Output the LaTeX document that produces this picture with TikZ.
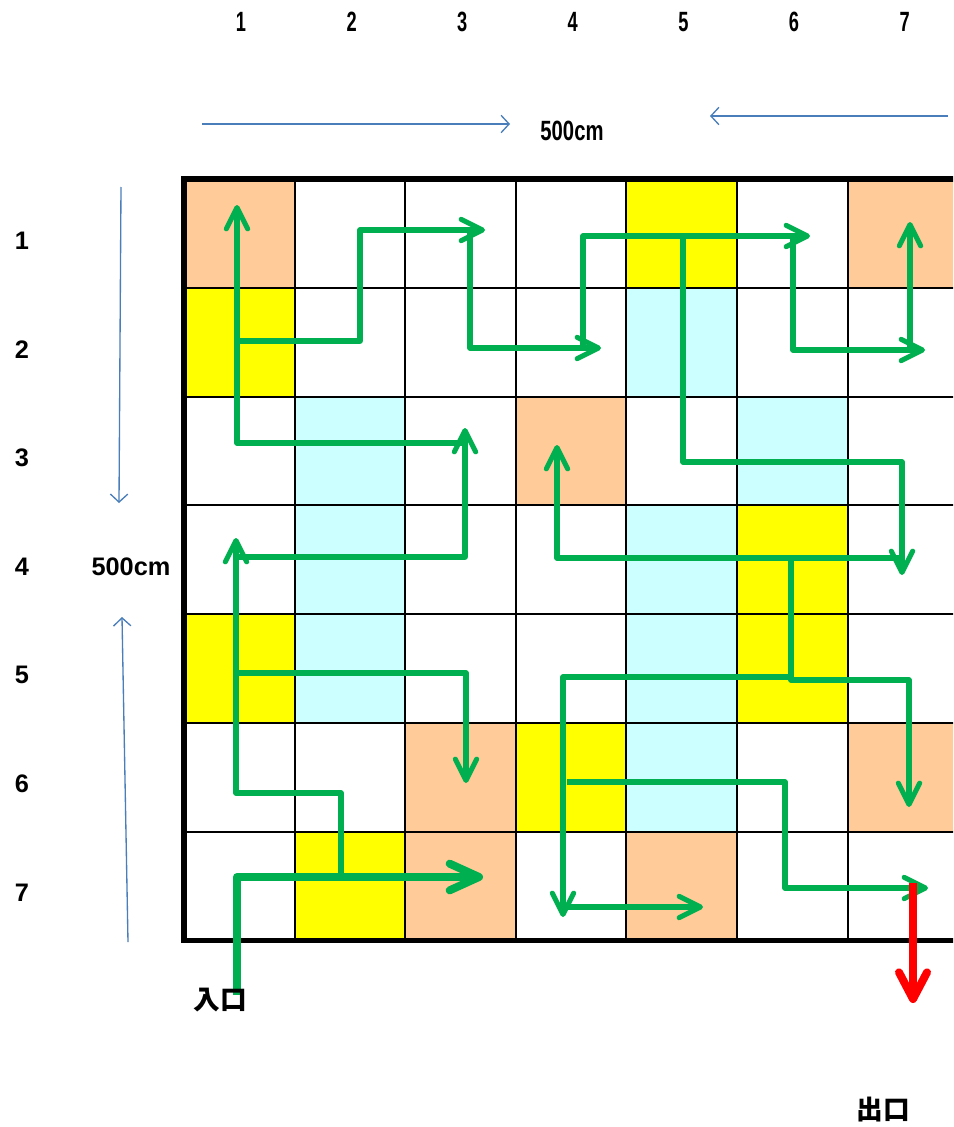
\documentclass[tikz,border=0pt]{standalone}
\usepackage{fontspec}
\setmainfont{Liberation Sans}
\newfontfamily\jpfont{Noto Sans CJK JP}
\usetikzlibrary{arrows.meta}
\definecolor{peach}{HTML}{FFCC99}
\definecolor{lemon}{HTML}{FFFF00}
\definecolor{aqua}{HTML}{CCFFFF}
\definecolor{route}{HTML}{00B050}
\definecolor{ruler}{HTML}{4A7EBB}
\newcommand{\cell}[3]{\fill[#3] ({184+110.6*(#1-1)}, {179+108.8*(#2-1)}) rectangle +(110.6, 108.8);}

\begin{document}
\begin{tikzpicture}[x=0.75pt, y=-0.75pt,
  walk/.style={draw=route, line width=3.8pt, line join=round,
    -{Straight Barb[length=16pt, width=16pt, round]}},
  gate/.style={draw=route, line width=6pt, line join=round,
    -{Straight Barb[length=22pt, width=20pt, round]}},
  exit/.style={draw=red, line width=6pt,
    -{Straight Barb[length=20pt, width=21pt, round]}},
  ruler/.style={draw=ruler, line width=1pt,
    -{Straight Barb[length=6pt, width=13pt]}},
  num/.style={font=\fontsize{19}{22}\selectfont\bfseries, inner sep=0pt},
  jp/.style={font=\fontsize{20}{24}\selectfont\jpfont\bfseries, inner sep=0pt}]
\useasboundingbox (0, 0) rectangle (953, 1127);
\clip (0, 0) rectangle (953, 1127);
\fill[white] (0, 0) rectangle (953, 1127);
\cell{1}{1}{peach} \cell{7}{1}{peach} \cell{4}{3}{peach} \cell{3}{6}{peach}
\cell{7}{6}{peach} \cell{3}{7}{peach} \cell{5}{7}{peach}
\cell{5}{1}{lemon} \cell{1}{2}{lemon} \cell{6}{4}{lemon} \cell{1}{5}{lemon}
\cell{6}{5}{lemon} \cell{4}{6}{lemon} \cell{2}{7}{lemon}
\cell{5}{2}{aqua} \cell{2}{3}{aqua} \cell{6}{3}{aqua} \cell{2}{4}{aqua}
\cell{5}{4}{aqua} \cell{2}{5}{aqua} \cell{5}{5}{aqua} \cell{5}{6}{aqua}
\foreach \i in {1,...,6} {
  \draw[line width=1.6pt] ({184+110.6*\i}, 179) -- ({184+110.6*\i}, 940);
  \draw[line width=1.6pt] (184, {179+108.8*\i}) -- (958, {179+108.8*\i});
}
\draw[line width=4pt] (184, 179) rectangle (958.2, 940.6);
%
\foreach \c in {1,...,7}
  \node[num] (col\c) at ({241+110.6*(\c-1)}, 22) {\scalebox{0.72}[1.1]{\c}};
\foreach \r in {1,...,7}
  \node[num] (row\r) at (22, {241+108.6*(\r-1)}) {\r};
\node[num] (top) at (572, 131) {\scalebox{0.8}[1.1]{500cm}};
\node[num] (side) at (131, 567) {500cm};
\draw[ruler] (202, 124) -- (510, 124);
\draw[ruler] (948, 116) -- (710, 116);
\draw[ruler] (121, 187) -- (119, 503);
\draw[ruler] (128, 942) -- (122, 617);
%
\draw[gate] (237, 995) -- (237, 877) -- (483, 877);
\draw[walk] (341, 877) -- (341, 793) -- (236, 793) -- (236, 538);
\draw[walk] (236, 673) -- (466, 673) -- (466, 783);
\draw[walk] (236, 557) -- (465, 557) -- (465, 428);
\draw[walk] (465, 443) -- (237, 443) -- (237, 205);
\draw[walk] (237, 341) -- (360, 341) -- (360, 230) -- (485, 230);
\draw[walk] (470, 230) -- (470, 348) -- (601, 348);
\draw[walk] (583, 348) -- (583, 236) -- (810, 236);
\draw[walk] (793, 236) -- (793, 350) -- (925, 350);
\draw[walk] (910, 350) -- (910, 222);
\draw[walk] (683, 236) -- (683, 462) -- (902, 462) -- (902, 575);
\draw[walk] (900, 558) -- (557, 558) -- (557, 445);
\draw[walk] (791, 558) -- (791, 680) -- (909, 680) -- (909, 807);
\draw[walk] (791, 677) -- (563, 677) -- (563, 917);
\draw[walk] (567, 907) -- (703, 907);
\draw[walk] (567, 782) -- (785, 782) -- (785, 888) -- (928, 888);
\draw[exit] (913, 883) -- (913, 1003);
%
\node[jp] (entry) at (220, 1000) {入口};
\node[jp] (goal) at (883, 1110) {出口};
\end{tikzpicture}
\end{document}
